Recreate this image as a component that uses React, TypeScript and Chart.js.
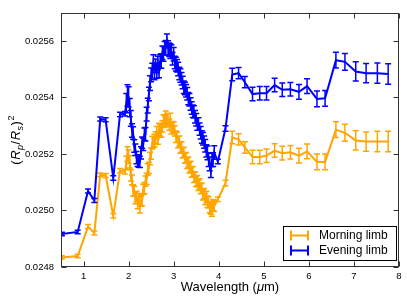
import React, { useEffect, useRef } from "react";
import { Chart, registerables } from "chart.js";

Chart.register(...registerables);

// ---------- data ----------
const wavelength = [
  0.52, 0.87, 1.10, 1.24, 1.37, 1.49, 1.66, 1.81, 1.92,
  1.95, 1.975, 2.0, 2.025, 2.05, 2.075, 2.1, 2.125, 2.15, 2.175,
  2.2, 2.225, 2.25, 2.275, 2.3, 2.325, 2.35, 2.375, 2.4, 2.425,
  2.45, 2.475, 2.5, 2.525, 2.55, 2.575, 2.6, 2.625, 2.65, 2.675,
  2.7, 2.725, 2.75, 2.775, 2.8, 2.825, 2.85, 2.875, 2.9, 2.925,
  2.95, 2.975, 3.0, 3.025, 3.05, 3.075, 3.1, 3.125, 3.15, 3.175,
  3.2, 3.225, 3.25, 3.275, 3.3, 3.325, 3.35, 3.375, 3.4, 3.425,
  3.45, 3.475, 3.5, 3.525, 3.55, 3.575, 3.6, 3.625, 3.65, 3.675,
  3.7, 3.725, 3.75, 3.775, 3.8, 3.825, 3.85, 3.875, 3.9,
  3.98, 4.15, 4.30, 4.44, 4.58, 4.75, 4.91, 5.06, 5.24, 5.41,
  5.59, 5.78, 5.96, 6.18, 6.36, 6.60, 6.80, 7.04, 7.27, 7.52, 7.76,
];

const eveningLimb = [
  0.024917, 0.024924, 0.025069, 0.025035, 0.025324, 0.025321, 0.025115, 0.025340, 0.025342,
  0.025380, 0.025407, 0.025402, 0.025364, 0.025326, 0.025283, 0.025274, 0.025228, 0.025215, 0.025187,
  0.025176, 0.025175, 0.025172, 0.025204, 0.025240, 0.025234, 0.025270, 0.025270, 0.025341, 0.025371,
  0.025412, 0.025451, 0.025480, 0.025495, 0.025527, 0.025489, 0.025512, 0.025494, 0.025522, 0.025496,
  0.025528, 0.025529, 0.025558, 0.025554, 0.025574, 0.025576, 0.025601, 0.025575, 0.025569, 0.025564,
  0.025562, 0.025537, 0.025553, 0.025524, 0.025518, 0.025512, 0.025501, 0.025485, 0.025478, 0.025466,
  0.025453, 0.025436, 0.025432, 0.025424, 0.025413, 0.025396, 0.025392, 0.025377, 0.025363, 0.025351,
  0.025349, 0.025332, 0.025321, 0.025306, 0.025306, 0.025288, 0.025275, 0.025260, 0.025254, 0.025242,
  0.025229, 0.025211, 0.025204, 0.025180, 0.025165, 0.025141, 0.025179, 0.025180, 0.025205,
  0.025173, 0.025290, 0.025481, 0.025486, 0.025454, 0.025412, 0.025415, 0.025415, 0.025444, 0.025427,
  0.025429, 0.025420, 0.025440, 0.025395, 0.025397, 0.025532, 0.025526, 0.025492, 0.025486, 0.025486, 0.025483,
];

const morningLimb = [
  0.024834, 0.024839, 0.024943, 0.024920, 0.025126, 0.025124, 0.024981, 0.025141, 0.025137,
  0.025168, 0.025200, 0.025190, 0.025172, 0.025124, 0.025108, 0.025071, 0.025068, 0.025044, 0.025050,
  0.025026, 0.025042, 0.025011, 0.025033, 0.025037, 0.025075, 0.025079, 0.025104, 0.025112, 0.025145,
  0.025151, 0.025184, 0.025201, 0.025240, 0.025243, 0.025248, 0.025259, 0.025275, 0.025254, 0.025287,
  0.025284, 0.025281, 0.025298, 0.025317, 0.025314, 0.025330, 0.025323, 0.025321, 0.025304, 0.025322,
  0.025291, 0.025297, 0.025293, 0.025282, 0.025261, 0.025259, 0.025242, 0.025246, 0.025223, 0.025224,
  0.025204, 0.025206, 0.025185, 0.025187, 0.025167, 0.025171, 0.025151, 0.025156, 0.025136, 0.025138,
  0.025117, 0.025119, 0.025102, 0.025106, 0.025089, 0.025094, 0.025077, 0.025079, 0.025055, 0.025060,
  0.025040, 0.025048, 0.025031, 0.025029, 0.025012, 0.025007, 0.025000, 0.025019, 0.025016,
  0.025040, 0.025097, 0.025258, 0.025252, 0.025223, 0.025189, 0.025189, 0.025194, 0.025212, 0.025203,
  0.025206, 0.025194, 0.025209, 0.025172, 0.025172, 0.025286, 0.025275, 0.025248, 0.025244, 0.025244, 0.025244,
];

const eveningErr = [
  0.000006, 0.000006, 0.000007, 0.000007, 0.000007, 0.000007, 0.000008, 0.000008, 0.000008,
  0.000034, 0.000038, 0.000036, 0.000032, 0.000028, 0.000024, 0.000022, 0.000022, 0.000020, 0.000022,
  0.000020, 0.000022, 0.000020, 0.000022, 0.000020, 0.000022, 0.000022, 0.000024, 0.000024, 0.000026,
  0.000024, 0.000026, 0.000024, 0.000026, 0.000024, 0.000026, 0.000024, 0.000026, 0.000024, 0.000026,
  0.000024, 0.000026, 0.000024, 0.000026, 0.000024, 0.000026, 0.000024, 0.000026, 0.000024, 0.000026,
  0.000024, 0.000022, 0.000024, 0.000022, 0.000024, 0.000022, 0.000024, 0.000022, 0.000024, 0.000022,
  0.000022, 0.000022, 0.000022, 0.000022, 0.000022, 0.000022, 0.000022, 0.000022, 0.000022, 0.000022,
  0.000022, 0.000022, 0.000022, 0.000022, 0.000022, 0.000022, 0.000022, 0.000022, 0.000022, 0.000022,
  0.000022, 0.000022, 0.000024, 0.000024, 0.000024, 0.000024, 0.000024, 0.000024, 0.000024,
  0.000008, 0.000010, 0.000022, 0.000020, 0.000020, 0.000024, 0.000024, 0.000024, 0.000024, 0.000024,
  0.000024, 0.000026, 0.000026, 0.000028, 0.000028, 0.000028, 0.000030, 0.000034, 0.000034, 0.000036, 0.000036,
];

const morningErr = [
  0.000006, 0.000006, 0.000007, 0.000007, 0.000007, 0.000007, 0.000008, 0.000008, 0.000008,
  0.000024, 0.000026, 0.000024, 0.000022, 0.000020, 0.000018, 0.000020, 0.000018, 0.000020, 0.000018,
  0.000020, 0.000018, 0.000020, 0.000018, 0.000020, 0.000018, 0.000020, 0.000018, 0.000020, 0.000020,
  0.000020, 0.000022, 0.000020, 0.000022, 0.000020, 0.000022, 0.000020, 0.000022, 0.000020, 0.000022,
  0.000020, 0.000022, 0.000020, 0.000022, 0.000020, 0.000022, 0.000020, 0.000022, 0.000020, 0.000022,
  0.000020, 0.000018, 0.000020, 0.000018, 0.000020, 0.000018, 0.000020, 0.000018, 0.000020, 0.000018,
  0.000018, 0.000018, 0.000018, 0.000018, 0.000018, 0.000018, 0.000018, 0.000018, 0.000018, 0.000018,
  0.000018, 0.000018, 0.000018, 0.000018, 0.000018, 0.000018, 0.000018, 0.000018, 0.000018, 0.000018,
  0.000020, 0.000020, 0.000020, 0.000020, 0.000020, 0.000020, 0.000020, 0.000020, 0.000020,
  0.000008, 0.000010, 0.000022, 0.000020, 0.000020, 0.000024, 0.000024, 0.000024, 0.000024, 0.000024,
  0.000024, 0.000026, 0.000026, 0.000028, 0.000028, 0.000028, 0.000030, 0.000034, 0.000034, 0.000036, 0.000036,
];

const xTicks = [1, 2, 3, 4, 5, 6, 7, 8];
const yTicks = [0.0248, 0.025, 0.0252, 0.0254, 0.0256];
const X_MIN = 0.5;
const X_MAX = 8;
const Y_MIN = 0.0248;
const Y_MAX = 0.0257;

const ORANGE = "#FFA500";
const BLUE = "#0000FF";
const FONT = "'Liberation Sans', Arial, sans-serif";

const toPoints = (ys: number[]) => ys.map((y, i) => ({ x: wavelength[i], y }));

// ---------- plugins ----------
const errorBarPlugin = {
  id: "errorBars",
  afterDatasetDraw(chart: any, args: any) {
    const ds = chart.data.datasets[args.index];
    const errs: number[] = ds.errors;
    if (!errs) return;
    const ctx = chart.ctx;
    const xs = chart.scales.x;
    const ys = chart.scales.y;
    const area = chart.chartArea;
    ctx.save();
    ctx.beginPath();
    ctx.rect(area.left, area.top, area.right - area.left, area.bottom - area.top);
    ctx.clip();
    ctx.strokeStyle = ds.borderColor;
    ctx.lineWidth = 1.5;
    ctx.beginPath();
    ds.data.forEach((p: any, i: number) => {
      const x = xs.getPixelForValue(p.x);
      const yLo = ys.getPixelForValue(p.y - errs[i]);
      const yHi = ys.getPixelForValue(p.y + errs[i]);
      const cap = 3;
      ctx.moveTo(x, yLo);
      ctx.lineTo(x, yHi);
      ctx.moveTo(x - cap, yLo);
      ctx.lineTo(x + cap, yLo);
      ctx.moveTo(x - cap, yHi);
      ctx.lineTo(x + cap, yHi);
    });
    ctx.stroke();
    ctx.restore();
  },
};

const framePlugin = {
  id: "frame",
  afterDraw(chart: any) {
    const ctx = chart.ctx;
    const { left, right, top, bottom } = chart.chartArea;
    const xs = chart.scales.x;
    const ys = chart.scales.y;
    ctx.save();
    ctx.strokeStyle = "#333";
    ctx.lineWidth = 1;
    const L = Math.round(left) + 0.5;
    const R = Math.round(right) - 0.5;
    const T = Math.round(top) + 0.5;
    const B = Math.round(bottom) - 0.5;
    ctx.strokeRect(L, T, R - L, B - T);
    ctx.beginPath();
    const tl = 5;
    xTicks.forEach((v) => {
      const x = Math.round(xs.getPixelForValue(v)) + 0.5;
      ctx.moveTo(x, B);
      ctx.lineTo(x, B - tl);
      ctx.moveTo(x, T);
      ctx.lineTo(x, T + tl);
    });
    yTicks.forEach((v) => {
      const y = Math.round(ys.getPixelForValue(v)) + 0.5;
      ctx.moveTo(L, y);
      ctx.lineTo(L + tl, y);
      ctx.moveTo(R, y);
      ctx.lineTo(R - tl, y);
    });
    ctx.stroke();

    // x axis title with italic mu
    ctx.fillStyle = "#000";
    ctx.textBaseline = "alphabetic";
    const normal = `13px ${FONT}`;
    const italic = `italic 13px ${FONT}`;
    const parts: [string, string][] = [
      ["Wavelength (", normal],
      ["\u03bc", italic],
      ["m)", normal],
    ];
    let total = 0;
    parts.forEach(([t, f]) => {
      ctx.font = f;
      total += ctx.measureText(t).width;
    });
    let cx = (left + right) / 2 - total / 2;
    parts.forEach(([t, f]) => {
      ctx.font = f;
      ctx.textAlign = "left";
      ctx.fillText(t, cx, 291);
      cx += ctx.measureText(t).width;
    });

    // y axis title (R_p/R_s)^2
    ctx.save();
    ctx.translate(20, (top + bottom) / 2);
    ctx.rotate(-Math.PI / 2);
    const big = 13;
    const small = 9;
    const ySeg: [string, string, number][] = [
      ["(", `${big}px ${FONT}`, 0],
      ["R", `italic ${big}px ${FONT}`, 0],
      ["p", `italic ${small}px ${FONT}`, 3],
      ["/", `${big}px ${FONT}`, 0],
      ["R", `italic ${big}px ${FONT}`, 0],
      ["s", `italic ${small}px ${FONT}`, 3],
      [")", `${big}px ${FONT}`, 0],
      ["2", `${small}px ${FONT}`, -6],
    ];
    let w = 0;
    ySeg.forEach(([t, f]) => {
      ctx.font = f;
      w += ctx.measureText(t).width + 0.5;
    });
    let px = -w / 2;
    ySeg.forEach(([t, f, dy]) => {
      ctx.font = f;
      ctx.textAlign = "left";
      ctx.fillText(t, px, dy);
      px += ctx.measureText(t).width + 0.5;
    });
    ctx.restore();

    // legend
    const bx = 283.5;
    const by = 226.5;
    const bw = 113;
    const bh = 34;
    ctx.fillStyle = "#fff";
    ctx.fillRect(bx, by, bw, bh);
    ctx.strokeStyle = "#000";
    ctx.lineWidth = 1;
    ctx.strokeRect(bx, by, bw, bh);
    const entries: [string, string, number][] = [
      ["Morning limb", ORANGE, 235.5],
      ["Evening limb", BLUE, 250.5],
    ];
    entries.forEach(([label, color, y]) => {
      ctx.strokeStyle = color;
      ctx.lineWidth = 2;
      ctx.beginPath();
      ctx.moveTo(291, y);
      ctx.lineTo(308, y);
      ctx.moveTo(291, y - 5);
      ctx.lineTo(291, y + 5);
      ctx.moveTo(308, y - 5);
      ctx.lineTo(308, y + 5);
      ctx.stroke();
      ctx.fillStyle = "#000";
      ctx.font = `12px ${FONT}`;
      ctx.textAlign = "left";
      ctx.textBaseline = "middle";
      ctx.fillText(label, 319, y);
    });
    ctx.restore();
  },
};

export default function App() {
  const canvasRef = useRef<HTMLCanvasElement | null>(null);

  useEffect(() => {
    const canvas = canvasRef.current;
    if (!canvas) return;
    const chart = new Chart(canvas, {
      type: "line",
      data: {
        datasets: [
          {
            label: "Evening limb",
            data: toPoints(eveningLimb),
            errors: eveningErr,
            borderColor: BLUE,
            backgroundColor: BLUE,
            borderWidth: 2,
            pointRadius: 0,
            fill: false,
            tension: 0,
          } as any,
          {
            label: "Morning limb",
            data: toPoints(morningLimb),
            errors: morningErr,
            borderColor: ORANGE,
            backgroundColor: ORANGE,
            borderWidth: 2,
            pointRadius: 0,
            fill: false,
            tension: 0,
          } as any,
        ],
      },
      options: {
        responsive: false,
        animation: false,
        devicePixelRatio: 1,
        layout: { padding: { top: 5, right: 8, left: 0, bottom: 0 } },
        plugins: {
          legend: { display: false },
          tooltip: { enabled: false },
        },
        scales: {
          x: {
            type: "linear",
            min: X_MIN,
            max: X_MAX,
            grid: { display: false, drawTicks: false },
            border: { display: false },
            afterBuildTicks: (s: any) => {
              s.ticks = xTicks.map((v) => ({ value: v }));
            },
            afterFit: (s: any) => {
              s.height = 34;
            },
            ticks: {
              font: { family: FONT, size: 9.5 },
              color: "#000",
              padding: 4,
              maxRotation: 0,
              callback: (v: any) => String(v),
            },
          },
          y: {
            type: "linear",
            min: Y_MIN,
            max: Y_MAX,
            grid: { display: false, drawTicks: false },
            border: { display: false },
            afterBuildTicks: (s: any) => {
              s.ticks = yTicks.map((v) => ({ value: v }));
            },
            afterFit: (s: any) => {
              s.width = 61;
            },
            ticks: {
              font: { family: FONT, size: 9.5 },
              color: "#000",
              padding: 7,
              callback: (v: any) => Number(v).toFixed(4),
            },
          },
        },
      } as any,
      plugins: [errorBarPlugin, framePlugin],
    });
    return () => chart.destroy();
  }, []);

  return (
    <div style={{ position: "absolute", left: 0, top: 0, width: 407, height: 301, background: "#fff" }}>
      <canvas ref={canvasRef} width={407} height={301} style={{ display: "block" }} />
    </div>
  );
}
